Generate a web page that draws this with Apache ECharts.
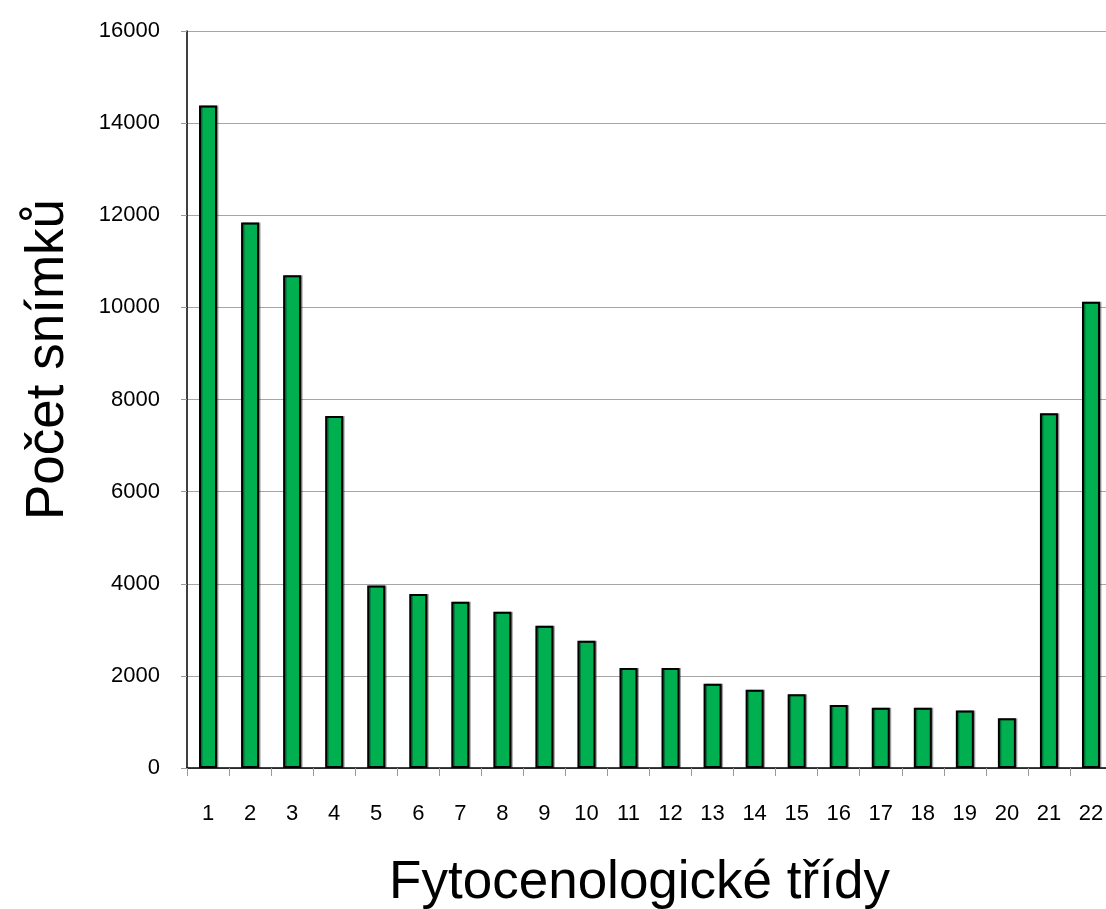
<!DOCTYPE html>
<html>
<head>
<meta charset="utf-8">
<script src="https://cdn.jsdelivr.net/npm/echarts@6/dist/echarts.min.js"></script>
<style>
  html, body { margin: 0; padding: 0; background: #fff; }
  #chart { width: 1106px; height: 909px; }
</style>
</head>
<body>
<div id="chart"></div>
<script>
// tridy 1..22
var categories = ["1","2","3","4","5","6","7","8","9","10","11","12","13","14","15","16","17","18","19","20","21","22"];
var snimky = [14380, 11840, 10700, 7640, 3960, 3780, 3610, 3390, 3090, 2760, 2170, 2170, 1830, 1700, 1600, 1370, 1310, 1310, 1250, 1080, 7700, 10120];
var yMin = 0, yMax = 16000, yStep = 2000;

var chart = echarts.init(document.getElementById("chart"));
chart.setOption({
  animation: false,
  textStyle: { fontFamily: "Liberation Sans, Arial, sans-serif" },
  grid: { left: 187, top: 31, width: 925, height: 737, containLabel: false, outerBoundsMode: "none" },
  xAxis: {
    type: "category",
    data: categories,
    name: "Fytocenologické třídy",
    nameLocation: "middle",
    nameGap: 89,
    nameTextStyle: { fontSize: 53, color: "#000", padding: [0, 20, 0, 0] },
    axisLine: { lineStyle: { color: "#000", width: 1.5 } },
    axisTick: { show: true, alignWithLabel: false, length: 8, lineStyle: { color: "#999" } },
    axisLabel: { fontSize: 22, color: "#000", margin: 35, interval: 0 },
    splitLine: { show: false }
  },
  yAxis: {
    type: "value",
    min: yMin,
    max: yMax,
    interval: yStep,
    name: "Počet snímků",
    nameLocation: "middle",
    nameGap: 112,
    nameRotate: 90,
    nameTextStyle: { fontSize: 53, color: "#000", padding: [0, 0, 0, 80] },
    axisLine: { show: true, lineStyle: { color: "#000", width: 1.5 } },
    axisTick: { show: true, length: 6, lineStyle: { color: "#999" } },
    axisLabel: { fontSize: 22, color: "#000", margin: 27, formatter: function (v) { return String(v); } },
    splitLine: { lineStyle: { color: "#a6a6a6", width: 1 } }
  },
  series: [{
    type: "bar",
    data: snimky,
    barWidth: 18,
    itemStyle: {
      color: "#00b050",
      borderColor: "#000",
      borderWidth: 2,
      shadowColor: "rgba(0,0,0,0.35)",
      shadowOffsetX: 1.5,
      shadowOffsetY: 0,
      shadowBlur: 0
    }
  }]
});
</script>
</body>
</html>
